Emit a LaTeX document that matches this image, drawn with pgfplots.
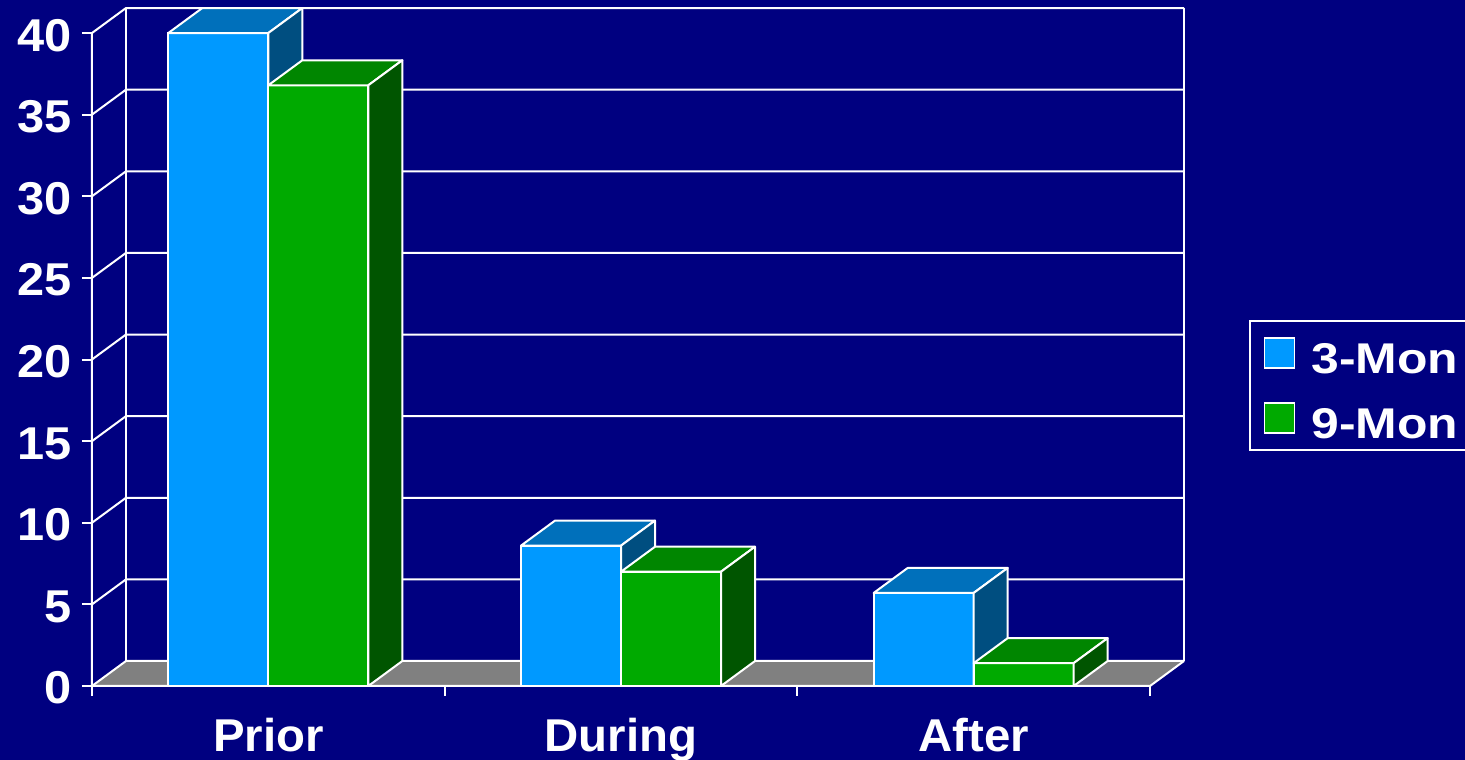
\documentclass[border=0pt]{standalone}
\usepackage{pgfplots}
\pgfplotsset{compat=1.18}
\usepackage{pgfplotstable}
\usepackage{fontspec}
\setmainfont{Liberation Sans}
\newfontfamily\tickfont{Liberation Sans}[FakeStretch=1.06]
\newfontfamily\catfont{Liberation Sans}[FakeStretch=1.03]
\newfontfamily\legfont{Liberation Sans}[FakeStretch=1.16]

\definecolor{bgnavy}{RGB}{0,0,128}
\definecolor{threefront}{RGB}{0,153,255}
\definecolor{threetop}{RGB}{0,112,187}
\definecolor{threeside}{RGB}{0,78,128}
\definecolor{ninefront}{RGB}{0,170,0}
\definecolor{ninetop}{RGB}{0,134,0}
\definecolor{nineside}{RGB}{0,85,0}
\definecolor{floorgray}{RGB}{128,128,128}

% pos: 0 = Prior, 1 = During, 2 = After
\pgfplotstableread{
pos  threemon  ninemon
0    40.0      36.8
1    8.6       7.0
2    5.7       1.4
}\responses

% an invisible mark: the solid is drawn by the scatter code
\pgfdeclareplotmark{nomark}{}

\tikzset{wall/.style={white, line width=2pt}}

\pgfplotsset{
  % a solid bar (front, top and side faces) whose front-right top corner is the data point
  barsolid/.style n args={3}{
    forget plot, only marks, scatter, mark=nomark,
    visualization depends on={rawy \as \barval},
    scatter/@pre marker code/.code={%
      \pgfmathsetmacro{\barh}{\barval*16.3245}%
      \filldraw[fill=#1, draw=white, line width=2pt, line join=round]
        (-100pt,0pt) rectangle (0pt,{-\barh pt});
      \filldraw[fill=#2, draw=white, line width=2pt, line join=round]
        (-100pt,0pt) -- (0pt,0pt) -- (34pt,25pt) -- (-66pt,25pt) -- cycle;
      \filldraw[fill=#3, draw=white, line width=2pt, line join=round]
        (0pt,0pt) -- (34pt,25pt) -- (34pt,{25pt-\barh pt}) -- (0pt,{-\barh pt}) -- cycle;
    },
    scatter/@post marker code/.code={},
  },
  frontbar/.style={
    ybar, bar width=0.28355, fill=#1, draw=white, line width=2pt,
    legend image code/.code={%
      \filldraw[fill=#1, draw=white, line width=1.5pt] (0pt,-15pt) rectangle (30pt,15pt);},
  },
}

\begin{document}
\begin{tikzpicture}
\fill[bgnavy] (-92pt,-74pt) rectangle (1373pt,686pt);
\begin{axis}[
  at={(0pt,0pt)}, anchor=south west,
  x=352.67pt, y=16.3245pt,
  xmin=-0.5, xmax=2.59641, ymin=0, ymax=41.53144,
  clip=false,
  axis line style={draw=none},
  xtick={0,1,2}, xticklabels={Prior,During,After},
  minor xtick={-0.5,0.5,1.5,2.5},
  ytick={0,5,...,40},
  xtick pos=left, ytick pos=left,
  tick align=outside,
  major tick length=10pt, minor tick length=10pt,
  tick style={white, line width=2pt},
  major x tick style={draw=none},
  /pgf/number format/assume math mode=true,
  ticklabel style={text=white, inner sep=0pt},
  yticklabel style={font=\tickfont\fontsize{46}{50}\selectfont\bfseries,
    anchor=base east, xshift=-10pt, yshift=-18pt},
  xticklabel style={font=\catfont\fontsize{46}{50}\selectfont\bfseries,
    anchor=base, yshift=-56pt},
  legend style={
    at={(1.05952,0.53982)}, anchor=north west,
    fill=bgnavy, draw=white, line width=1.5pt,
    text=white, font=\legfont\fontsize{43}{47}\selectfont\bfseries,
    inner xsep=14pt, inner ysep=11pt, row sep=23pt,
    nodes={inner sep=0pt, text height=42pt, text depth=0pt},
    /tikz/every odd column/.append style={column sep=16pt},
  },
  legend cell align=left,
]
% floor
\fill[floorgray] (axis cs:-0.5,0) -- (axis cs:2.5,0)
  -- ([shift={(34pt,25pt)}]axis cs:2.5,0)
  -- ([shift={(34pt,25pt)}]axis cs:-0.5,0) -- cycle;
% side-wall diagonals and back-wall grid lines
\pgfplotsinvokeforeach{0,5,...,40}{
  \draw[wall] (axis cs:-0.5,#1) -- ([shift={(34pt,25pt)}]axis cs:-0.5,#1)
    -- ([shift={(34pt,25pt)}]axis cs:2.5,#1);
}
% back-wall edges
\draw[wall] ([shift={(34pt,25pt)}]axis cs:-0.5,0) -- ([shift={(34pt,25pt)}]axis cs:-0.5,40);
\draw[wall] ([shift={(34pt,25pt)}]axis cs:2.5,0) -- ([shift={(34pt,25pt)}]axis cs:2.5,40);
% front axis lines
\draw[wall] (axis cs:-0.5,40) -- (axis cs:-0.5,0) -- (axis cs:2.5,0)
  -- ([shift={(34pt,25pt)}]axis cs:2.5,0);

\addplot[frontbar=threefront, bar shift=-0.141775] table[x=pos, y=threemon] {\responses};
\addlegendentry{3-Mon}
\addplot[barsolid={threefront}{threetop}{threeside}] table[x=pos, y=threemon] {\responses};
\addplot[frontbar=ninefront, bar shift=0.141775] table[x=pos, y=ninemon] {\responses};
\addlegendentry{9-Mon}
\addplot[barsolid={ninefront}{ninetop}{nineside}] table[x expr=\thisrow{pos}+0.28355, y=ninemon] {\responses};
\end{axis}
\pgfresetboundingbox
\useasboundingbox (-92pt,-74pt) rectangle (1373pt,686pt);
\end{tikzpicture}
\end{document}
